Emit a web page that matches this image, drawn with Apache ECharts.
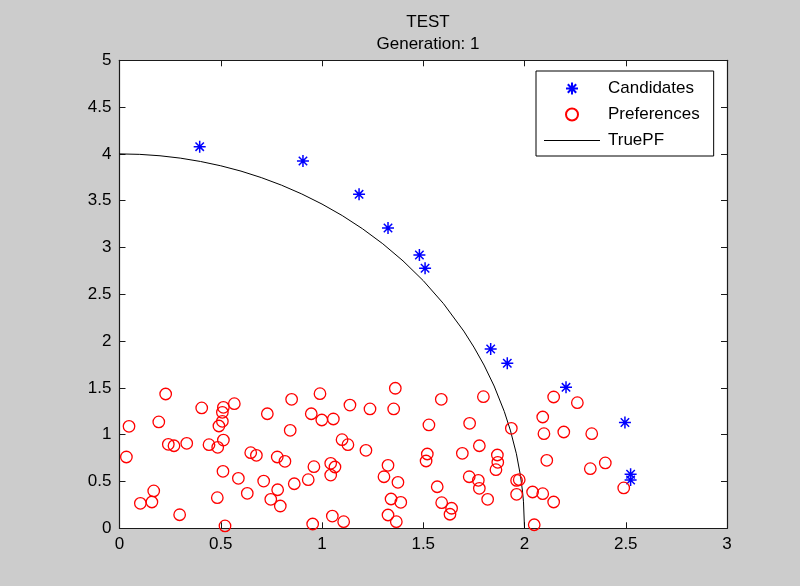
<!DOCTYPE html>
<html>
<head>
    <meta charset="UTF-8">
    <title>TEST - Generation: 1</title>
    <script src="https://cdn.jsdelivr.net/npm/echarts@6/dist/echarts.min.js"></script>
    <style>
        html, body { margin: 0; padding: 0; background: #cccccc; }
    </style>
</head>
<body>
    <div id="main" style="width: 800px; height: 586px;"></div>
    <script>
        // values
        var candidates = [
            [0.396, 4.077], [0.906, 3.924], [1.183, 3.568], [1.326, 3.208],
            [1.481, 2.920], [1.509, 2.778], [1.833, 1.916], [1.915, 1.763],
            [2.205, 1.506], [2.496, 1.130], [2.524, 0.577], [2.524, 0.516]
        ];

        var preferences = [
            [0.228, 1.435], [0.047, 1.090], [0.194, 1.136], [0.406, 1.286], [0.513, 1.293],
            [0.567, 1.331], [0.508, 1.239], [0.508, 1.143], [0.491, 1.093], [0.730, 1.224],
            [0.850, 1.378], [0.990, 1.438], [0.947, 1.224], [0.999, 1.157], [0.843, 1.047],
            [0.241, 0.897], [0.269, 0.882], [0.332, 0.908], [0.442, 0.893], [0.485, 0.865],
            [0.513, 0.943], [0.034, 0.762], [0.648, 0.808], [0.676, 0.780], [0.779, 0.762],
            [0.817, 0.716], [0.960, 0.658], [0.511, 0.609], [0.587, 0.534], [0.712, 0.505],
            [0.863, 0.476], [0.932, 0.519], [0.169, 0.399], [0.103, 0.267], [0.160, 0.281],
            [0.297, 0.145], [0.483, 0.327], [0.631, 0.374], [0.781, 0.412], [0.747, 0.310],
            [0.794, 0.238], [0.521, 0.025], [0.954, 0.046], [1.362, 1.496], [1.138, 1.317],
            [1.237, 1.275], [1.354, 1.275], [1.589, 1.378], [1.797, 1.406], [1.056, 1.168],
            [1.528, 1.104], [1.729, 1.122], [1.935, 1.068], [1.099, 0.947], [1.128, 0.893],
            [1.217, 0.833], [1.520, 0.794], [1.514, 0.719], [1.693, 0.801], [1.777, 0.882],
            [1.866, 0.783], [1.868, 0.705], [1.859, 0.626], [1.043, 0.694], [1.064, 0.655],
            [1.043, 0.569], [1.326, 0.673], [1.306, 0.551], [1.375, 0.491], [1.569, 0.444],
            [1.727, 0.551], [1.772, 0.513], [1.777, 0.427], [1.818, 0.310], [1.961, 0.511],
            [1.974, 0.519], [1.961, 0.363], [1.341, 0.313], [1.389, 0.278], [1.591, 0.274],
            [1.640, 0.214], [1.632, 0.150], [1.051, 0.131], [1.107, 0.071], [1.326, 0.142],
            [1.367, 0.071], [2.144, 1.403], [2.261, 1.342], [2.090, 1.189], [2.096, 1.011],
            [2.194, 1.029], [2.332, 1.011], [2.110, 0.726], [2.325, 0.637], [2.399, 0.698],
            [2.040, 0.388], [2.090, 0.370], [2.144, 0.281], [2.048, 0.038], [2.490, 0.431]
        ];

        var truePF = [
            [0, 4], [0.1, 3.995], [0.2, 3.980], [0.3, 3.955], [0.4, 3.919], [0.5, 3.873],
            [0.6, 3.816], [0.7, 3.747], [0.8, 3.666], [0.9, 3.572], [1.0, 3.464],
            [1.1, 3.341], [1.2, 3.2], [1.3, 3.040], [1.4, 2.857], [1.5, 2.646],
            [1.6, 2.4], [1.7, 2.107], [1.75, 1.936], [1.8, 1.744], [1.85, 1.520],
            [1.9, 1.249], [1.93, 1.049], [1.96, 0.796], [1.98, 0.564], [1.99, 0.399],
            [1.995, 0.283], [2.0, 0]
        ];

        var xTicks = { min: 0, max: 3, interval: 0.5 };
        var yTicks = { min: 0, max: 5, interval: 0.5 };

        var font = "'Liberation Sans', Arial, sans-serif";
        var starPath = 'path://M0,-6 L0,6 M-6,0 L6,0 M-4.2,-4.2 L4.2,4.2 M-4.2,4.2 L4.2,-4.2';
        var linePath = 'path://M0,5.5 L56,5.5 L56,6.5 L0,6.5 Z';

        function makeAxis(t, pos, showLabel) {
            return {
                type: 'value',
                position: pos,
                min: t.min,
                max: t.max,
                interval: t.interval,
                axisLine: { show: true, onZero: false, lineStyle: { color: '#1a1a1a', width: 1.2 } },
                axisTick: { show: true, inside: true, length: 6, lineStyle: { color: '#1a1a1a' } },
                axisLabel: {
                    show: showLabel,
                    color: '#000',
                    fontSize: 17,
                    fontFamily: font,
                    margin: 8
                },
                splitLine: { show: false }
            };
        }

        var myChart = echarts.init(document.getElementById('main'));
        var option = {
            backgroundColor: '#cccccc',
            animation: false,
            title: {
                text: 'TEST\nGeneration: 1',
                left: 423,
                top: 6,
                textAlign: 'center',
                textStyle: {
                    color: '#000',
                    fontSize: 17,
                    fontWeight: 'normal',
                    fontFamily: font,
                    lineHeight: 22
                }
            },
            grid: {
                left: 119.5,
                right: 73,
                top: 60.3,
                bottom: 57.7,
                show: true,
                backgroundColor: '#fff',
                borderWidth: 0
            },
            legend: {
                orient: 'vertical',
                left: 536,
                top: 71,
                padding: [9, 14, 7, 8],
                itemWidth: 56,
                itemHeight: 12,
                itemGap: 9,
                backgroundColor: '#fff',
                borderColor: '#000',
                borderWidth: 1,
                textStyle: { color: '#000', fontSize: 17, fontFamily: font, padding: [0, 0, 0, 3] },
                data: [
                    'Candidates',
                    'Preferences',
                    { name: 'TruePF', icon: linePath, itemStyle: { color: '#000', borderWidth: 0 } }
                ]
            },
            xAxis: [makeAxis(xTicks, 'bottom', true), makeAxis(xTicks, 'top', false)],
            yAxis: [makeAxis(yTicks, 'left', true), makeAxis(yTicks, 'right', false)],
            series: [
                {
                    name: 'TruePF',
                    type: 'line',
                    data: truePF,
                    symbol: 'none',
                    smooth: false,
                    lineStyle: { color: '#000', width: 1 },
                    itemStyle: { color: '#000' },
                    z: 2
                }, {
                    name: 'Candidates',
                    type: 'scatter',
                    data: candidates,
                    symbol: starPath,
                    symbolSize: 12,
                    symbolKeepAspect: true,
                    itemStyle: { color: 'rgba(0,0,0,0)', borderColor: '#0000ff', borderWidth: 1.5, opacity: 1 },
                    z: 3
                }, {
                    name: 'Preferences',
                    type: 'scatter',
                    data: preferences,
                    symbol: 'circle',
                    symbolSize: 11.5,
                    itemStyle: { color: 'rgba(0,0,0,0)', borderColor: '#ff0000', borderWidth: 1.3, opacity: 1 },
                    z: 3
                }
            ]
        };
        myChart.setOption(option);
    </script>
</body>
</html>
